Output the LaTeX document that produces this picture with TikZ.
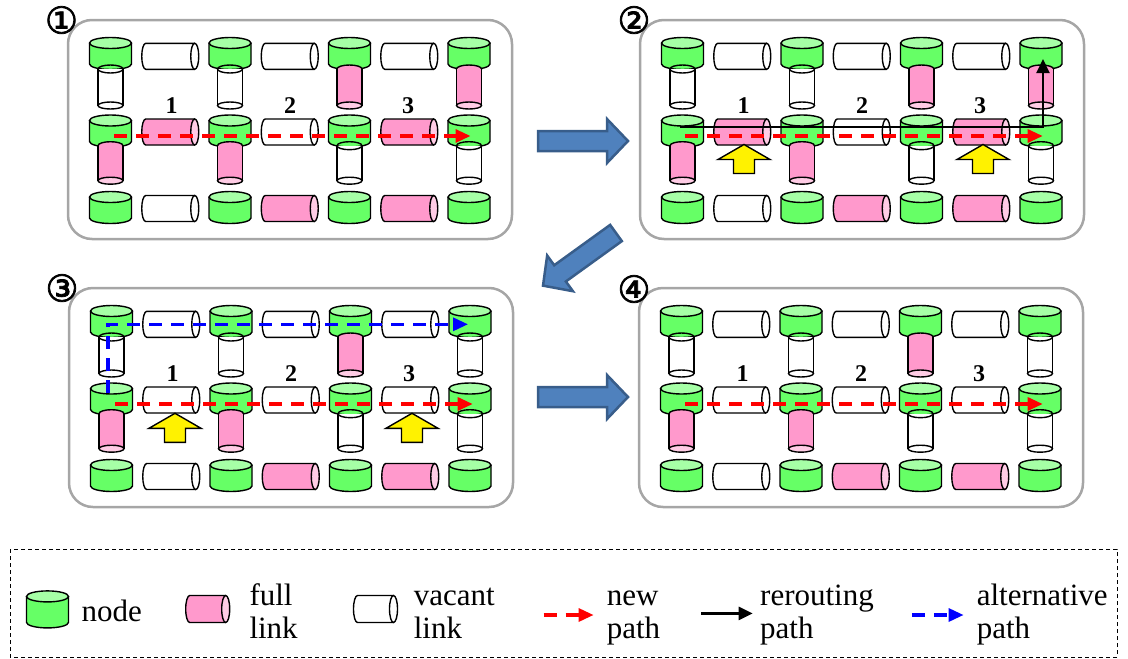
\documentclass[tikz,border=0pt]{standalone}
\usepackage{fontspec}
\setmainfont{Liberation Serif}
\newfontfamily\circfont[FakeBold=2]{DejaVu Sans}
\usetikzlibrary{arrows.meta}
\definecolor{gbody}{RGB}{102,255,102}
\definecolor{gtop}{RGB}{166,255,166}
\definecolor{fullbody}{RGB}{255,153,204}
\definecolor{fullend}{RGB}{255,204,229}
\definecolor{barrow}{RGB}{79,129,189}
\definecolor{barrowline}{RGB}{56,93,138}
\definecolor{panelgray}{RGB}{166,166,166}
\tikzset{
 outl/.style={draw=black, line width=1.4pt},
 panelbox/.style={draw=panelgray, line width=2.5pt, rounded corners=24pt},
 legendbox/.style={draw=black, line width=0.9pt, dash pattern=on 4pt off 3pt},
 newpath/.style={draw=red, line width=3.2pt, dash pattern=on 13pt off 9pt, -{Triangle[length=15pt,width=13pt]}},
 altpath/.style={newpath, draw=blue},
 reroute/.style={draw=black, line width=2pt, -{Triangle[length=14pt,width=13pt]}},
 bigarrow/.style={fill=barrow, draw=barrowline, line width=2.5pt, line join=miter},
 numlbl/.style={font=\bfseries\fontsize{24}{24}\selectfont, inner sep=0},
 circnum/.style={font=\circfont\fontsize{37}{37}\selectfont, inner sep=0},
 legtext/.style={font=\fontsize{31}{33}\selectfont, anchor=north west, inner sep=0, align=left},
 pics/gnode/.style={code={
   \filldraw[fill=gbody, outl] (-21,0) -- (-21,#1) arc[start angle=180, end angle=360, x radius=21pt, y radius=5.5pt] -- (21,0);
   \filldraw[fill=gtop, outl] (0,0) ellipse[x radius=21pt, y radius=5.5pt];
   \coordinate (-c) at (0,0);
 }},
 pics/hlink/.style n args={3}{code={
   \ifnum#1=1\relax\def\lbody{fullbody}\def\lend{fullend}\else\def\lbody{white}\def\lend{white}\fi
   \filldraw[fill=\lbody, outl] (#2,-#3) -- (-#2,-#3) arc[start angle=90, end angle=270, x radius=4pt, y radius=#3pt] -- (#2,#3);
   \filldraw[fill=\lend, outl] (#2,0) ellipse[x radius=4pt, y radius=#3pt];
   \coordinate (-c) at (0,0);
 }},
 pics/vlink/.style n args={2}{code={
   \ifnum#1=1\relax\def\lbody{fullbody}\def\lend{fullend}\else\def\lbody{white}\def\lend{white}\fi
   \ifnum#1=1\relax\filldraw[fill=fullbody, outl] (0,0) ellipse[x radius=12.5pt, y radius=4pt];\fi
   \fill[fill=\lbody] (-12.5,0) rectangle (12.5,#2);
   \draw[outl] (-12.5,0) -- (-12.5,#2) (12.5,0) -- (12.5,#2);
   \ifnum#1=1\relax\else\draw[outl] (0,0) ellipse[x radius=12.5pt, y radius=4pt];\fi
   \filldraw[fill=\lend, outl] (0,#2) ellipse[x radius=12.5pt, y radius=3.5pt];
   \coordinate (-c) at (0,0);
 }},
 pics/yarrow/.style={code={
   \filldraw[fill=yellow, outl] (0,0) -- (26,15) -- (10.5,15) -- (10.5,29) -- (-10.5,29) -- (-10.5,15) -- (-26,15) -- cycle;
   \coordinate (-c) at (0,0);
 }}
}
% #1 ox, #2 oy, #3 name, #4 top verticals, #5 middle links, #6 bottom verticals, #7 bottom links
\newcommand\gpanel[7]{%
 \begin{scope}[shift={(#1,#2)}]
  \draw[panelbox] (0,0) rectangle (444,219);
  \foreach \r/\ry in {t/23, m/100.5, b/177} {
    \foreach \c in {1,...,4} {
      \pic (#3\r\c) at ({42.5+119.5*(\c-1)},\ry) {gnode=21};
    }
  }
  \foreach \k [count=\c] in {#4} {\pic (#3vt\c) at ({42.5+119.5*(\c-1)},49) {vlink={\k}{36.5}};}
  \foreach \k [count=\c] in {#6} {\pic (#3vb\c) at ({42.5+119.5*(\c-1)},125.7) {vlink={\k}{35}};}
  \foreach \c in {1,2,3} {\pic (#3ht\c) at ({102.25+119.5*(\c-1)},36.3) {hlink={0}{24.5}{13}};}
  \foreach \k [count=\c] in {#5} {\pic (#3hm\c) at ({102.25+119.5*(\c-1)},112) {hlink={\k}{24.5}{13}};}
  \foreach \k [count=\c] in {#7} {\pic (#3hb\c) at ({102.25+119.5*(\c-1)},188.5) {hlink={\k}{24.5}{13}};}
  \foreach \c/\x in {1/103.7,2/222,3/340} {\node[numlbl] (#3lab\c) at (\x,86) {\c};}
 \end{scope}}
\begin{document}
\begin{tikzpicture}[x=1pt,y=-1pt]
\useasboundingbox (0,0) rectangle (1128,659);

% panels
\gpanel{68}{20}{P1}{0,0,1,1}{1,0,1}{1,1,0,0}{0,1,1}
\gpanel{640}{20}{P2}{0,0,1,1}{1,0,1}{1,1,0,0}{0,1,1}
\gpanel{69}{288}{P3}{0,0,1,0}{0,0,0}{1,1,0,0}{0,1,1}
\gpanel{639}{288}{P4}{0,0,1,0}{0,0,0}{1,1,0,0}{0,1,1}

% circled numbers
\node[circnum] (c1) at (61.5,20) {①};
\node[circnum] (c2) at (634,20) {②};
\node[circnum] (c3) at (62,288) {③};
\node[circnum] (c4) at (634,289) {④};

% yellow arrows
\pic (P2y1) at (744,144.5) {yarrow};
\pic (P2y2) at (983,144.5) {yarrow};
\pic (P3y1) at (175,413.3) {yarrow};
\pic (P3y2) at (412,413.3) {yarrow};

% paths
\draw[newpath] ([shift={(3.5,15.5)}]P1m1-c) -- ([shift={(1.5,15.5)}]P1m4-c);
\draw[newpath] ([shift={(2.5,15.5)}]P2m1-c) -- ([shift={(1.7,15.5)}]P2m4-c);
\draw[reroute] ([shift={(-2.5,6.2)}]P2m1-c) -- ([shift={(2,6.2)}]P2m4-c) -- ([shift={(2,16)}]P2t4-c);
\draw[altpath] ([shift={(-3.5,4.5)}]P3m1-c) |- ([shift={(-2,13.3)}]P3t4-c);
\draw[newpath] ([shift={(3.5,15.5)}]P3m1-c) -- ([shift={(2.7,15.5)}]P3m4-c);
\draw[newpath] ([shift={(3.5,15.5)}]P4m1-c) -- ([shift={(2.7,15.5)}]P4m4-c);

% big arrows
\filldraw[bigarrow, shift={(538,141)}] (0,-10) -- (69,-10) -- (69,-22) -- (90,0) -- (69,22) -- (69,10) -- (0,10) -- cycle;
\filldraw[bigarrow, shift={(616,233)}, rotate=215.8] (0,-10) -- (69,-10) -- (69,-22) -- (90,0) -- (69,22) -- (69,10) -- (0,10) -- cycle;
\filldraw[bigarrow, shift={(538,397)}] (0,-10) -- (69,-10) -- (69,-22) -- (90,0) -- (69,22) -- (69,10) -- (0,10) -- cycle;

% legend
\draw[legendbox] (10,549) rectangle (1117,657);
\pic (Lnode) at (47.5,596.4) {gnode=26};
\node[anchor=base west, inner sep=0, font=\fontsize{31}{33}\selectfont] (Lt1) at (81.4,621.8) {node};
\pic (Lfull) at (207.7,609) {hlink={1}{18}{13.5}};
\node[legtext] (Lt2) at (249.3,583) {\rule{0pt}{22pt}full\\link};
\pic (Lvac) at (375.5,609) {hlink={0}{18}{13.5}};
\node[legtext] (Lt3) at (413.6,583) {\rule{0pt}{22pt}vacant\\link};
\coordinate (Lr1) at (543.7,615);
\coordinate (Lr2) at (593.6,615);
\draw[newpath] (Lr1) -- (Lr2);
\node[legtext] (Lt4) at (606.6,583) {\rule{0pt}{22pt}new\\path};
\coordinate (Lb1) at (701,613.4);
\coordinate (Lb2) at (752.7,613.4);
\draw[reroute, line width=2.5pt] (Lb1) -- (Lb2);
\node[legtext] (Lt5) at (760,583) {\rule{0pt}{22pt}rerouting\\path};
\coordinate (La1) at (911.8,615);
\coordinate (La2) at (963.6,615);
\draw[altpath] (La1) -- (La2);
\node[legtext] (Lt6) at (976.6,583) {\rule{0pt}{22pt}alternative\\path};
\end{tikzpicture}
\end{document}
